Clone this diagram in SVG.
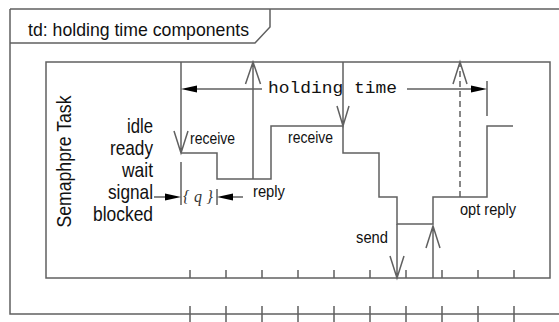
<svg xmlns="http://www.w3.org/2000/svg" width="559" height="322" viewBox="0 0 559 322">
<style>
.ln{fill:none;stroke:#606060;stroke-width:1.5}
.dash{fill:none;stroke:#606060;stroke-width:1.5;stroke-dasharray:6,4}
.fh{fill:#000;stroke:none}
.t{font-family:"Liberation Sans",Arial,sans-serif;fill:#111}
.big{font-size:21px}
.sm{font-size:17px}
.mono{font-family:"Liberation Mono","Courier New",monospace;font-size:17px;fill:#111}
.q{font-family:"Liberation Serif","Times New Roman",serif;font-style:italic;font-size:16px;fill:#333}
</style>
<rect width="559" height="322" fill="#fff"/>
<g id="frame">
<path class="ln" d="M10 9 H561 M10 9 V314 H561 M10 43 H255 L270 27 V9"/>
<text class="t" x="28" y="35.5" font-size="19" textLength="221" lengthAdjust="spacingAndGlyphs">td: holding time components</text>
</g>
<g id="lifeline">
<rect class="ln" x="46" y="62" width="504" height="216"/>
<text class="t big" transform="translate(70.5,161.5) rotate(-90)" text-anchor="middle" textLength="132" lengthAdjust="spacingAndGlyphs">Semaphpre Task</text>
</g>
<g id="states">
<text class="t big" x="153" y="133" text-anchor="end" textLength="26" lengthAdjust="spacingAndGlyphs">idle</text>
<text class="t big" x="153" y="155" text-anchor="end" textLength="43" lengthAdjust="spacingAndGlyphs">ready</text>
<text class="t big" x="153" y="177" text-anchor="end" textLength="31" lengthAdjust="spacingAndGlyphs">wait</text>
<text class="t big" x="153" y="199" text-anchor="end" textLength="45" lengthAdjust="spacingAndGlyphs">signal</text>
<text class="t big" x="153" y="221" text-anchor="end" textLength="60" lengthAdjust="spacingAndGlyphs">blocked</text>
</g>
<g id="ticks">
<path class="ln" d="M190 270V278M226 270V278M262 270V278M298 270V278M334 270V278M370 270V278M406 270V278M442 270V278M478 270V278M514 270V278"/>
<path class="ln" d="M190 306V322M226 306V322M262 306V322M298 306V322M334 306V322M370 306V322M406 306V322M442 306V322M478 306V322M514 306V322"/>
</g>
<g id="trace">
<path class="ln" d="M181 153 H217 V179 H271 V126 H343 V153 H379 V197 H397 V224 H433 V197 H487 V126 H513"/>
</g>
<g id="connectors">
<path class="ln" d="M181 62 V153 M174 131 L181 153 L188 131"/>
<path class="ln" d="M253 179 V62 M245.5 84 L253 62 L260.5 84"/>
<path class="ln" d="M343 62 V126 M337 106 L343 126 L349 106"/>
<path class="ln" d="M397 224 V278 M390 256 L397 278 L404 256"/>
<path class="ln" d="M433 278 V226 M426 248 L433 226 L440 248"/>
<path class="dash" d="M460 197 V64"/>
<path class="ln" d="M453 84 L460 62 L467 84"/>
<path class="ln" d="M197 89 H262 M407 89 H471 M487 81 V116"/>
<polygon class="fh" points="181,89 197,85.5 197,92.5"/>
<polygon class="fh" points="487,89 471,85.5 471,92.5"/>
<path class="ln" d="M181 162 V205 M217 189 V205 M154 197 H166 M233 197 H243"/>
<polygon class="fh" points="181,197 165,193.5 165,200.5"/>
<polygon class="fh" points="217,197 233,193.5 233,200.5"/>
</g>
<g id="labels">
<text class="mono" x="268" y="93" textLength="129" lengthAdjust="spacingAndGlyphs">holding time</text>
<text class="t sm" x="190" y="144" textLength="45" lengthAdjust="spacingAndGlyphs">receive</text>
<text class="t sm" x="288" y="143" textLength="45" lengthAdjust="spacingAndGlyphs">receive</text>
<text class="t sm" x="253" y="197" textLength="32" lengthAdjust="spacingAndGlyphs">reply</text>
<text class="t sm" x="356" y="243" textLength="32" lengthAdjust="spacingAndGlyphs">send</text>
<text class="t sm" x="460" y="215" textLength="56" lengthAdjust="spacingAndGlyphs">opt reply</text>
<text class="q" x="183" y="202" textLength="30" lengthAdjust="spacing">{q}</text>
</g>
</svg>
